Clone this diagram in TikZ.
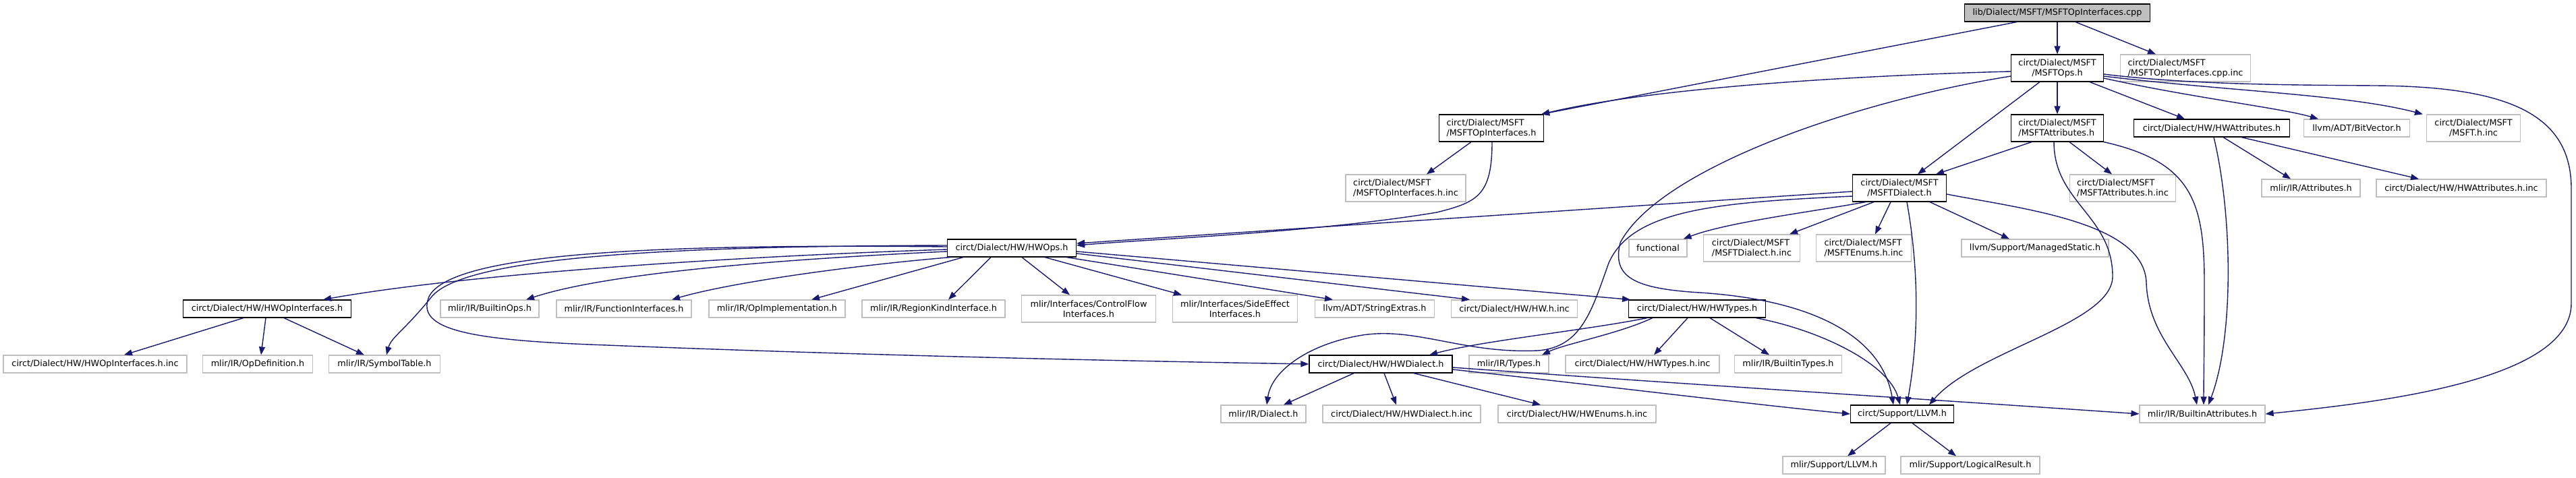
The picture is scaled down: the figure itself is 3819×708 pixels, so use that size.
\documentclass[tikz,border=0pt]{standalone}
\usepackage{fontspec}
\setmainfont{DejaVu Sans}
\usetikzlibrary{arrows.meta,calc}
\definecolor{edgec}{HTML}{191970}
\definecolor{grayb}{HTML}{BFBFBF}
\begin{document}
\begin{tikzpicture}[x=0.5pt,y=-0.5pt,
  box/.style={draw=black, line width=0.6pt, fill=white, inner sep=0pt, align=center, font=\fontsize{6.4}{7.5}\selectfont, minimum height=13pt},
  gbox/.style={box, draw=grayb},
  tall/.style={minimum height=20pt},
  lft/.style={align=left},
  dep/.style={draw=edgec, line width=0.7pt, -{Triangle[length=6pt,width=4.5pt]}},
]
\useasboundingbox (0,0) rectangle (3819,708);
% nodes
\node[box, fill=grayb, minimum width=137.5pt] (root) at (3050,19) {lib/Dialect/MSFT/MSFTOpInterfaces.cpp};
\node[box, tall, minimum width=68.5pt] (msftops) at (3050,101) {circt/Dialect/MSFT\\/MSFTOps.h};
\node[gbox, tall, lft, minimum width=96.5pt] (cppinc) at (3240,101) {circt/Dialect/MSFT\\/MSFTOpInterfaces.cpp.inc};
\node[box, tall, lft, minimum width=77.5pt] (msftopif) at (2211,190) {circt/Dialect/MSFT\\/MSFTOpInterfaces.h};
\node[box, tall, lft, minimum width=68.5pt] (msftattr) at (3050,190) {circt/Dialect/MSFT\\/MSFTAttributes.h};
\node[box, minimum width=115.5pt] (hwattr) at (3279,190) {circt/Dialect/HW/HWAttributes.h};
\node[gbox, minimum width=78.5pt] (bitvec) at (3494,190) {llvm/ADT/BitVector.h};
\node[gbox, tall, minimum width=69.5pt] (msfthinc) at (3667,190) {circt/Dialect/MSFT\\/MSFT.h.inc};
\node[gbox, tall, lft, minimum width=89pt] (msftopifinc) at (2084,279) {circt/Dialect/MSFT\\/MSFTOpInterfaces.h.inc};
\node[box, tall, minimum width=69.5pt] (msftdialect) at (2816,279) {circt/Dialect/MSFT\\/MSFTDialect.h};
\node[gbox, tall, lft, minimum width=78.5pt] (msftattrinc) at (3147,279) {circt/Dialect/MSFT\\/MSFTAttributes.h.inc};
\node[gbox, minimum width=73pt] (irattr) at (3426,279) {mlir/IR/Attributes.h};
\node[gbox, minimum width=126pt] (hwattrinc) at (3649,279) {circt/Dialect/HW/HWAttributes.h.inc};
\node[box, minimum width=95.5pt] (hwops) at (1500,368) {circt/Dialect/HW/HWOps.h};
\node[gbox, minimum width=43pt] (functional) at (2458,368) {functional};
\node[gbox, tall, lft, minimum width=71.5pt] (msftdialectinc) at (2597,368) {circt/Dialect/MSFT\\/MSFTDialect.h.inc};
\node[gbox, tall, lft, minimum width=70.5pt] (msftenums) at (2763,368) {circt/Dialect/MSFT\\/MSFTEnums.h.inc};
\node[gbox, minimum width=109pt] (managed) at (3017,368) {llvm/Support/ManagedStatic.h};
\node[box, minimum width=124.5pt] (hwopif) at (396,458) {circt/Dialect/HW/HWOpInterfaces.h};
\node[gbox, minimum width=73pt] (builtinops) at (726,458) {mlir/IR/BuiltinOps.h};
\node[gbox, minimum width=100pt] (funcif) at (925,458) {mlir/IR/FunctionInterfaces.h};
\node[gbox, minimum width=101pt] (opimpl) at (1152,458) {mlir/IR/OpImplementation.h};
\node[gbox, minimum width=106pt] (regionkind) at (1384,458) {mlir/IR/RegionKindInterface.h};
\node[gbox, tall, minimum width=99.5pt] (controlflow) at (1614,458) {mlir/Interfaces/ControlFlow\\Interfaces.h};
\node[gbox, tall, minimum width=92.5pt] (sideeffect) at (1831,458) {mlir/Interfaces/SideEffect\\Interfaces.h};
\node[gbox, minimum width=88.5pt] (stringextras) at (2038,458) {llvm/ADT/StringExtras.h};
\node[gbox, minimum width=93.5pt] (hwhinc) at (2245,458) {circt/Dialect/HW/HW.h.inc};
\node[box, minimum width=101.5pt] (hwtypes) at (2516,458) {circt/Dialect/HW/HWTypes.h};
\node[gbox, minimum width=136pt] (hwopifinc) at (141,540) {circt/Dialect/HW/HWOpInterfaces.h.inc};
\node[gbox, minimum width=81.5pt] (opdef) at (382,540) {mlir/IR/OpDefinition.h};
\node[gbox, minimum width=82.5pt] (symtab) at (570,540) {mlir/IR/SymbolTable.h};
\node[box, minimum width=106pt] (hwdialect) at (2047,540) {circt/Dialect/HW/HWDialect.h};
\node[gbox, minimum width=59pt] (irtypes) at (2237,540) {mlir/IR/Types.h};
\node[gbox, minimum width=114pt] (hwtypesinc) at (2435,540) {circt/Dialect/HW/HWTypes.h.inc};
\node[gbox, minimum width=79.5pt] (builtintypes) at (2651,540) {mlir/IR/BuiltinTypes.h};
\node[gbox, minimum width=63pt] (irdialect) at (1873,614) {mlir/IR/Dialect.h};
\node[gbox, minimum width=117pt] (hwdialectinc) at (2078,614) {circt/Dialect/HW/HWDialect.h.inc};
\node[gbox, minimum width=117pt] (hwenums) at (2338,614) {circt/Dialect/HW/HWEnums.h.inc};
\node[box, minimum width=76.5pt] (llvmh) at (2820,614) {circt/Support/LLVM.h};
\node[gbox, minimum width=93pt] (builtinattr) at (3265,614) {mlir/IR/BuiltinAttributes.h};
\node[gbox, minimum width=76pt] (mlirllvm) at (2719,690) {mlir/Support/LLVM.h};
\node[gbox, minimum width=103pt] (logical) at (2921,690) {mlir/Support/LogicalResult.h};
% edges from root
\draw[dep] ($(root.south)+(-60,0)$) -- ($(msftopif.north east)+(-4,0)$);
\draw[dep] (root.south) -- (msftops.north);
\draw[dep] ($(root.south)+(27,0)$) -- ($(cppinc.north)+(-44,0)$);
% MSFTOps.h
\draw[dep] ($(msftops.west)+(0,5)$) .. controls (2750,112) and (2450,130) .. ($(msftopif.north east)+(-4,0)$);
\draw[dep] (msftops.south) -- (msftattr.north);
\draw[dep] ($(msftops.south)+(48,0)$) -- ($(hwattr.north)+(-40,0)$);
\draw[dep] ($(msftops.east)+(0,15)$) .. controls (3250,145) and (3380,160) .. ($(bitvec.north)+(-57,0)$);
\draw[dep] ($(msftops.east)+(0,12)$) .. controls (3300,135) and (3480,140) .. ($(msfthinc.north west)+(-5,0)$);
\draw[dep] ($(msftops.east)+(0,9)$) .. controls (3250,126) and (3400,126) .. (3520,127) .. controls (3720,128) and (3812,170) .. (3812,280) -- (3812,450) .. controls (3812,560) and (3550,595) .. (builtinattr.east);
\draw[dep] ($(msftops.south)+(-26,0)$) -- ($(msftdialect.north)+(27,0)$);
\draw[dep] ($(msftops.west)+(0,12)$) .. controls (2750,150) and (2460,250) .. (2402,360) .. controls (2390,410) and (2420,428) .. (2520,434) .. controls (2690,445) and (2790,500) .. ($(llvmh.north)+(-13,0)$);
% MSFTAttributes.h
\draw[dep] ($(msftattr.south)+(-38,0)$) -- ($(msftdialect.north)+(54,0)$);
\draw[dep] ($(msftattr.south)+(18,0)$) -- ($(msftattrinc.north)+(-16,0)$);
\draw[dep] ($(msftattr.south)+(-5,0)$) .. controls (3045,300) and (3132,320) .. (3132,410) .. controls (3132,480) and (2930,520) .. ($(llvmh.north)+(40,0)$);
\draw[dep] (msftattr.south east) .. controls (3250,240) and (3268,300) .. (3268,420) .. controls (3268,520) and (3267,560) .. ($(builtinattr.north)+(2,0)$);
% HWAttributes.h
\draw[dep] ($(hwattr.south)+(3,0)$) .. controls (3310,320) and (3312,500) .. ($(builtinattr.north)+(9,0)$);
\draw[dep] ($(hwattr.south)+(17,0)$) -- ($(irattr.north)+(-30,0)$);
\draw[dep] ($(hwattr.south)+(44,0)$) -- ($(hwattrinc.north)+(-63,0)$);
% MSFTDialect.h
\draw[dep] ($(msftdialect.east)+(0,9)$) .. controls (3000,310) and (3180,330) .. (3182,420) .. controls (3185,500) and (3245,540) .. ($(builtinattr.north)+(-8,0)$);
\draw[dep] ($(msftdialect.south)+(11,0)$) .. controls (2845,400) and (2845,500) .. ($(llvmh.north)+(7,0)$);
\draw[dep] ($(msftdialect.west)+(0,5)$) -- ($(hwops.east)+(0,-7)$);
\draw[dep] ($(msftdialect.south west)+(20,0)$) .. controls (2680,315) and (2560,330) .. ($(functional.north east)+(-6,0)$);
\draw[dep] ($(msftdialect.south)+(-38,0)$) -- ($(msftdialectinc.north)+(56,0)$);
\draw[dep] ($(msftdialect.south)+(-13,0)$) -- ($(msftenums.north)+(17,0)$);
\draw[dep] ($(msftdialect.south)+(45,0)$) -- ($(managed.north)+(-38,0)$);
\draw[dep] ($(msftdialect.west)+(0,12)$) .. controls (2550,300) and (2420,310) .. (2385,390) .. controls (2360,460) and (2345,515) .. (2280,520) .. controls (2170,525) and (2100,485) .. (2020,497) .. controls (1940,510) and (1885,550) .. ($(irdialect.north)+(5,0)$);
% MSFTOpInterfaces.h
\draw[dep] ($(msftopif.south)+(-30,0)$) -- ($(msftopifinc.north)+(31,0)$);
\draw[dep] ($(msftopif.south)+(1,0)$) .. controls (2212,290) and (2190,300) .. (2130,315) .. controls (1950,345) and (1700,355) .. ($(hwops.east)+(0,-4)$);
% HWOps.h
\draw[dep] ($(hwops.west)+(0,-4)$) .. controls (1000,365) and (690,380) .. (640,440) .. controls (600,490) and (580,500) .. ($(symtab.north)+(3,0)$);
\draw[dep] ($(hwops.west)+(0,-2)$) .. controls (1000,362) and (670,372) .. (636,440) .. controls (615,490) and (700,505) .. (900,512) .. controls (1300,528) and (1700,536) .. (hwdialect.west);
\draw[dep] ($(hwops.west)+(0,2)$) .. controls (1100,380) and (700,405) .. ($(hwopif.north east)+(-42,0)$);
\draw[dep] ($(hwops.west)+(0,5)$) .. controls (1150,385) and (900,405) .. ($(builtinops.north)+(54,0)$);
\draw[dep] ($(hwops.south west)+(5,0)$) .. controls (1250,395) and (1080,420) .. ($(funcif.north)+(71,0)$);
\draw[dep] ($(hwops.south)+(-72,0)$) -- ($(opimpl.north)+(51,0)$);
\draw[dep] ($(hwops.south)+(-31,0)$) -- ($(regionkind.north)+(22,0)$);
\draw[dep] ($(hwops.south)+(15,0)$) -- ($(controlflow.north)+(-28,0)$);
\draw[dep] ($(hwops.south)+(49,0)$) -- ($(sideeffect.north)+(-79,0)$);
\draw[dep] ($(hwops.south east)+(-15,0)$) -- ($(stringextras.north)+(-62,0)$);
\draw[dep] ($(hwops.east)+(0,8)$) -- ($(hwhinc.north)+(-66,0)$);
\draw[dep] ($(hwops.east)+(0,5)$) -- ($(hwtypes.north)+(-99,0)$);
% HWOpInterfaces.h
\draw[dep] ($(hwopif.south)+(-35,0)$) -- ($(hwopifinc.north)+(43,0)$);
\draw[dep] ($(hwopif.south)+(-2,0)$) -- ($(opdef.north)+(5,0)$);
\draw[dep] ($(hwopif.south)+(25,0)$) -- ($(symtab.north)+(-30,0)$);
% HWTypes.h
\draw[dep] ($(hwtypes.south west)+(28,0)$) .. controls (2350,490) and (2200,505) .. ($(hwdialect.north)+(72,0)$);
\draw[dep] ($(hwtypes.south west)+(36,0)$) .. controls (2400,495) and (2320,510) .. ($(irtypes.north)+(49,0)$);
\draw[dep] ($(hwtypes.south)+(-14,0)$) -- ($(hwtypesinc.north)+(17,0)$);
\draw[dep] ($(hwtypes.south)+(19,0)$) -- ($(builtintypes.north)+(-28,0)$);
\draw[dep] ($(hwtypes.south east)+(-15,0)$) .. controls (2700,490) and (2800,540) .. ($(llvmh.north)+(-3,0)$);
% HWDialect.h
\draw[dep] ($(hwdialect.south)+(-40,0)$) -- ($(irdialect.north)+(30,0)$);
\draw[dep] ($(hwdialect.south)+(5,0)$) -- ($(hwdialectinc.north)+(-8,0)$);
\draw[dep] ($(hwdialect.south)+(49,0)$) -- ($(hwenums.north)+(-54,0)$);
\draw[dep] ($(hwdialect.east)+(0,8)$) .. controls (2400,575) and (2600,600) .. (llvmh.west);
\draw[dep] ($(hwdialect.east)+(0,5)$) .. controls (2500,570) and (2900,595) .. (builtinattr.west);
% circt/Support/LLVM.h
\draw[dep] ($(llvmh.south)+(-17,0)$) -- ($(mlirllvm.north)+(20,0)$);
\draw[dep] ($(llvmh.south)+(15,0)$) -- ($(logical.north)+(-21,0)$);
\end{tikzpicture}
\end{document}
